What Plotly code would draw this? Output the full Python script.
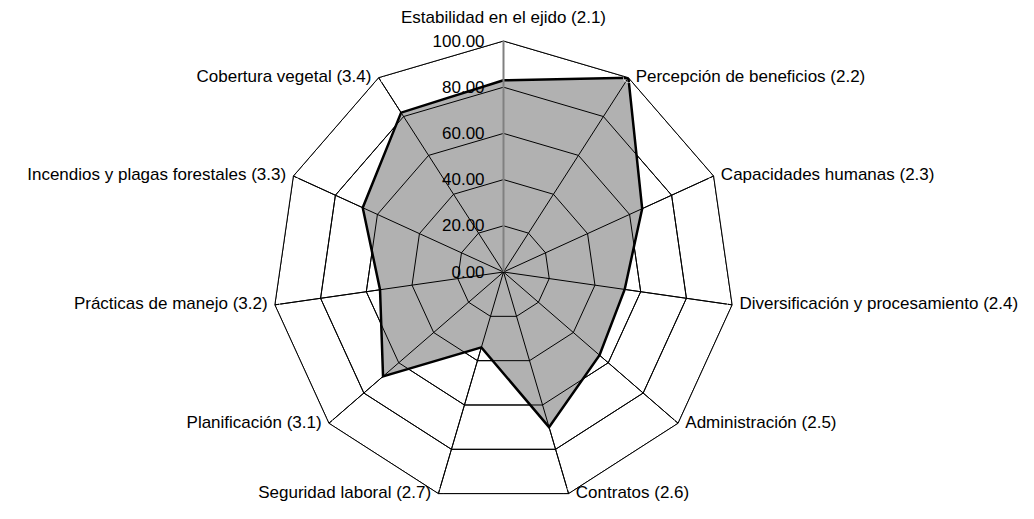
import plotly.graph_objects as go

categories = [
    "Estabilidad en el ejido (2.1)",
    "Percepción de beneficios (2.2)",
    "Capacidades humanas (2.3)",
    "Diversificación y procesamiento (2.4)",
    "Administración (2.5)",
    "Contratos (2.6)",
    "Seguridad laboral (2.7)",
    "Planificación (3.1)",
    "Prácticas de manejo (3.2)",
    "Incendios y plagas forestales (3.3)",
    "Cobertura vegetal (3.4)",
]
values = [83, 100, 66, 53, 55, 70, 34, 69, 54, 67, 82]
radial_ticks = [0, 20, 40, 60, 80, 100]

closed_theta = categories + categories[:1]
closed_values = values + values[:1]

# label placement (style only)
label_pos = ["top center"] + ["middle right"] * 5 + ["middle left"] * 5
label_pad = [20] + [10] * 10

fig = go.Figure()

# filled area (no outline)
fig.add_trace(go.Scatterpolar(
    r=closed_values, theta=closed_theta, mode="lines", fill="toself",
    fillcolor="#b1b1b1", line=dict(color="rgba(0,0,0,0)", width=0),
    hoverinfo="skip", showlegend=False,
))

# gridlines redrawn above the fill
for v in radial_ticks[1:]:
    fig.add_trace(go.Scatterpolar(
        r=[v] * len(closed_theta), theta=closed_theta, mode="lines",
        line=dict(color="black", width=1), hoverinfo="skip", showlegend=False,
    ))
for c in categories:
    fig.add_trace(go.Scatterpolar(
        r=[radial_ticks[0], radial_ticks[-1]], theta=[c, c], mode="lines",
        line=dict(color="black", width=1), hoverinfo="skip", showlegend=False,
    ))

# data outline
fig.add_trace(go.Scatterpolar(
    r=closed_values, theta=closed_theta, mode="lines",
    line=dict(color="black", width=2.5), showlegend=False,
))

# category labels at the outer ring (invisible markers give the padding)
fig.add_trace(go.Scatterpolar(
    r=[radial_ticks[-1]] * len(categories), theta=categories, mode="markers+text",
    text=categories, textposition=label_pos, cliponaxis=False,
    marker=dict(size=label_pad, color="rgba(0,0,0,0)"),
    textfont=dict(size=17, color="black"), hoverinfo="skip", showlegend=False,
))

W, H = 1034, 519
cx, cy, R = 495.5, 264, 231
fig.update_layout(
    width=W, height=H,
    margin=dict(l=0, r=0, t=0, b=0),
    paper_bgcolor="white", plot_bgcolor="white",
    font=dict(family="Liberation Sans, Arial, sans-serif", size=17, color="black"),
    showlegend=False,
    polar=dict(
        domain=dict(x=[(cx - R) / W, (cx + R) / W], y=[1 - (cy + R) / H, 1 - (cy - R) / H]),
        gridshape="linear",
        bgcolor="white",
        radialaxis=dict(
            range=[0, 100], tickvals=radial_ticks, tickformat=".2f",
            angle=90, side="counterclockwise", tickangle=90,
            showline=True, linecolor="#808080", linewidth=2,
            showgrid=True, gridcolor="black", gridwidth=1,
            ticks="outside", ticklen=12, tickcolor="rgba(0,0,0,0)",
            tickfont=dict(size=17, color="black"),
        ),
        angularaxis=dict(
            direction="clockwise", rotation=90,
            showline=True, linecolor="black", linewidth=1,
            showgrid=True, gridcolor="black", gridwidth=1,
            ticks="", showticklabels=False,
        ),
    ),
)

fig.write_html("out.html")
